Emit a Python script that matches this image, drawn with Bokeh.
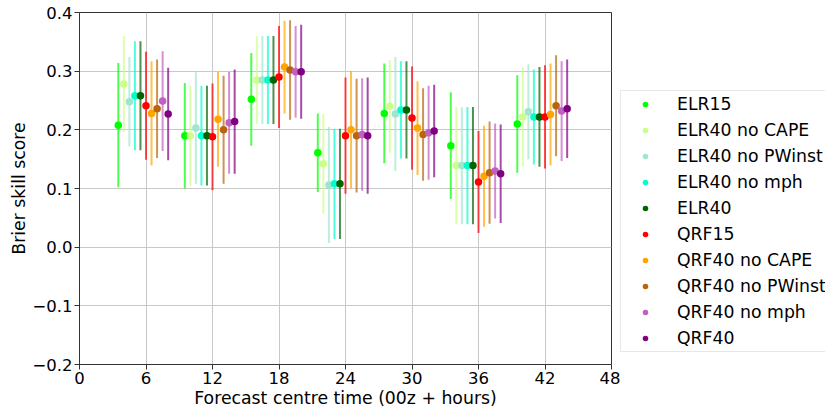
from bokeh.plotting import figure
from bokeh.layouts import row
from bokeh.models import ColumnDataSource, FixedTicker, Legend, LegendItem
from bokeh.embed import file_html
from bokeh.resources import INLINE

# Forecast centre times (hours after 00z)
times = [6, 12, 18, 24, 30, 36, 42]

# Brier skill score and half-width of the uncertainty interval per model
elr15_bss = [0.208, 0.190, 0.252, 0.161, 0.228, 0.173, 0.210]
elr15_err = [0.106, 0.090, 0.079, 0.067, 0.085, 0.091, 0.083]

elr40_nocape_bss = [0.278, 0.190, 0.285, 0.142, 0.240, 0.139, 0.222]
elr40_nocape_err = [0.082, 0.085, 0.075, 0.085, 0.079, 0.100, 0.085]

elr40_nopwinst_bss = [0.248, 0.203, 0.285, 0.106, 0.227, 0.139, 0.231]
elr40_nopwinst_err = [0.076, 0.095, 0.075, 0.099, 0.097, 0.100, 0.081]

elr40_nomph_bss = [0.258, 0.190, 0.285, 0.108, 0.234, 0.139, 0.222]
elr40_nomph_err = [0.093, 0.085, 0.075, 0.094, 0.083, 0.100, 0.081]

elr40_bss = [0.258, 0.190, 0.285, 0.108, 0.234, 0.139, 0.222]
elr40_err = [0.093, 0.085, 0.075, 0.094, 0.083, 0.100, 0.085]

qrf15_bss = [0.241, 0.188, 0.290, 0.190, 0.220, 0.111, 0.222]
qrf15_err = [0.092, 0.091, 0.087, 0.099, 0.088, 0.087, 0.088]

qrf40_nocape_bss = [0.228, 0.218, 0.307, 0.200, 0.203, 0.121, 0.226]
qrf40_nocape_err = [0.089, 0.081, 0.079, 0.100, 0.080, 0.086, 0.087]

qrf40_nopwinst_bss = [0.236, 0.200, 0.302, 0.190, 0.192, 0.127, 0.241]
qrf40_nopwinst_err = [0.084, 0.092, 0.085, 0.097, 0.079, 0.087, 0.086]

qrf40_nomph_bss = [0.249, 0.212, 0.299, 0.192, 0.195, 0.130, 0.232]
qrf40_nomph_err = [0.085, 0.087, 0.078, 0.096, 0.080, 0.081, 0.085]

qrf40_bss = [0.227, 0.214, 0.299, 0.190, 0.198, 0.125, 0.236]
qrf40_err = [0.079, 0.089, 0.080, 0.099, 0.079, 0.084, 0.084]

model_names = ["ELR15", "ELR40 no CAPE", "ELR40 no PWinst", "ELR40 no mph", "ELR40",
               "QRF15", "QRF40 no CAPE", "QRF40 no PWinst", "QRF40 no mph", "QRF40"]
model_colors = ["#00ff00", "#ccff88", "#9fe5cf", "#00ffcc", "#006400",
                "#ff0000", "#ffa500", "#b8650d", "#c060c0", "#800080"]
model_bss = [elr15_bss, elr40_nocape_bss, elr40_nopwinst_bss, elr40_nomph_bss, elr40_bss,
             qrf15_bss, qrf40_nocape_bss, qrf40_nopwinst_bss, qrf40_nomph_bss, qrf40_bss]
model_err = [elr15_err, elr40_nocape_err, elr40_nopwinst_err, elr40_nomph_err, elr40_err,
             qrf15_err, qrf40_nocape_err, qrf40_nopwinst_err, qrf40_nomph_err, qrf40_err]

x_ticks = [0, 6, 12, 18, 24, 30, 36, 42, 48]
y_ticks = [-0.2, -0.1, 0.0, 0.1, 0.2, 0.3, 0.4]
y_tick_labels = ["\u22120.2", "\u22120.1", "0.0", "0.1", "0.2", "0.3", "0.4"]

FONT = "DejaVu Sans"

# main scatter/error-bar panel
p = figure(width=620, height=411, x_range=(0, 48), y_range=(-0.2, 0.4),
           output_backend="svg", toolbar_location=None,
           min_border_left=79, min_border_right=9, min_border_top=12, min_border_bottom=47)
p.background_fill_color = "white"
p.border_fill_color = "white"
p.outline_line_color = "#333333"
p.outline_line_width = 1

# each model is shifted by half an hour within its group
for i, (name, color, bss, err) in enumerate(zip(model_names, model_colors, model_bss, model_err)):
    offset = (i - 5) * 0.5
    xs = [t + offset for t in times]
    src = ColumnDataSource(dict(
        x=xs, y=bss,
        lo=[b - e for b, e in zip(bss, err)],
        hi=[b + e for b, e in zip(bss, err)],
    ))
    p.segment(x0="x", y0="lo", x1="x", y1="hi", source=src,
              line_color=color, line_width=2, line_alpha=0.7)
    p.scatter(x="x", y="y", source=src, size=7.5, marker="circle",
              fill_color=color, line_color=color, line_width=0)

# axes
p.xaxis.ticker = FixedTicker(ticks=x_ticks)
p.yaxis.ticker = FixedTicker(ticks=y_ticks)
p.yaxis.major_label_overrides = {v: s for v, s in zip(y_ticks, y_tick_labels)}
p.xaxis.axis_label = "Forecast centre time (00z + hours)"
p.yaxis.axis_label = "Brier skill score"
for ax in (p.xaxis, p.yaxis):
    ax.axis_label_text_font = FONT
    ax.axis_label_text_font_size = "17.3px"
    ax.axis_label_text_font_style = "normal"
    ax.axis_label_text_color = "black"
    ax.major_label_text_font = FONT
    ax.major_label_text_font_size = "16.5px"
    ax.major_label_text_color = "black"
    ax.major_label_standoff = 2
    ax.major_tick_out = 5
    ax.major_tick_in = 0
    ax.major_tick_line_color = "#333333"
    ax.minor_tick_line_color = None
    ax.axis_line_color = "#333333"
p.xaxis.axis_label_standoff = 1
p.yaxis.axis_label_standoff = 0

p.xgrid.ticker = FixedTicker(ticks=x_ticks)
p.ygrid.ticker = FixedTicker(ticks=y_ticks)
for g in (p.xgrid, p.ygrid):
    g.grid_line_color = "#c8c8c8"
    g.grid_line_width = 1

# side panel holding the legend; its swatch renderers sit outside the visible range
lg = figure(width=205, height=411, x_range=(0, 1), y_range=(0, 1),
            x_axis_type=None, y_axis_type=None,
            output_backend="svg", toolbar_location=None, min_border=0)
lg.outline_line_color = None
lg.background_fill_color = "white"
lg.border_fill_color = "white"

legend_items = []
for name, color in zip(model_names, model_colors):
    r = lg.scatter(x=[-5], y=[-5], marker="circle", size=6,
                   fill_color=color, line_color=color, line_width=0)
    legend_items.append(LegendItem(label=name, renderers=[r]))

legend = Legend(items=legend_items, location=(0, 12))
legend.label_text_font = FONT
legend.label_text_font_size = "17.3px"
legend.label_text_color = "black"
legend.glyph_width = 42
legend.glyph_height = 14
legend.label_height = 20
legend.label_standoff = 11
legend.spacing = 6
legend.padding = 3
legend.margin = 0
legend.border_line_color = "#d0d0d0"
legend.border_line_width = 1
legend.background_fill_color = "white"
legend.background_fill_alpha = 1.0
lg.add_layout(legend)

layout = row(p, lg, spacing=0)

open("out.html", "w").write(file_html(layout, INLINE))
